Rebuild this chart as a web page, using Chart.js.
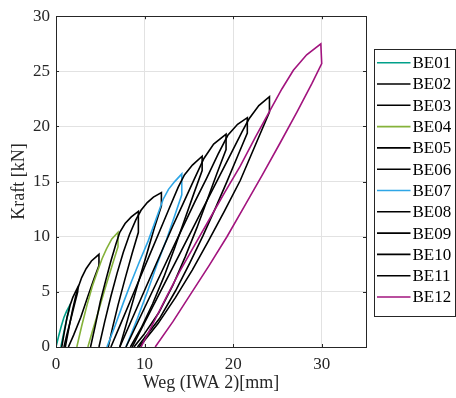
<!DOCTYPE html>
<html><head><meta charset="utf-8">
<script src="https://cdn.jsdelivr.net/npm/chart.js@4/dist/chart.umd.min.js"></script>
<style>html,body{margin:0;padding:0;background:#fff}canvas{display:block}</style>
</head><body>
<canvas id="c" width="456" height="398"></canvas>
<script>
const seriesNames = ['BE01','BE02','BE03','BE04','BE05','BE06','BE07','BE08','BE09','BE10','BE11','BE12'];
const seriesColors = ['#00a08a','#000000','#000000','#85b23a','#000000','#000000','#2ea6e6','#000000','#000000','#000000','#000000','#a2147e'];
const xTicks = [0,10,20,30];
const yTicks = [0,5,10,15,20,25,30];
const xTitle = 'Weg (IWA 2)[mm]';
const yTitle = 'Kraft [kN]';

// [Weg mm, Kraft kN] — loading branch, peak, drop, unloading branch
const BE01 = [[0,0],[0.3,1.0],[0.6,1.9],[0.9,2.7],[1.2,3.25],[1.5,3.7],[1.5,3.45],[1.2,2.5],[0.9,1.4],[0.55,0]];
const BE02 = [[0.65,0],[0.95,1.4],[1.25,2.7],[1.6,3.8],[1.9,4.5],[2.2,5.0],[2.45,5.4],[2.45,5.0],[2.1,3.9],[1.7,2.6],[1.25,1.2],[0.9,0]];
const BE03 = [[1.05,0],[1.45,1.7],[1.85,3.3],[2.25,4.7],[2.55,5.5],[2.9,6.3],[3.4,7.1],[4.0,7.8],[4.85,8.4],[4.85,7.4],[4.3,6.2],[3.6,4.6],[2.8,2.7],[2.0,1.1],[1.4,0]];
const BE04 = [[2.35,0],[2.9,1.9],[3.5,3.8],[4.1,5.5],[4.7,6.9],[5.2,8.0],[5.7,8.9],[6.3,9.8],[7.0,10.4],[7.0,9.1],[6.3,7.3],[5.5,5.2],[4.7,3.0],[4.1,1.4],[3.6,0]];
const BE05 = [[3.9,0],[4.45,2.0],[5.0,4.1],[5.6,6.0],[6.2,7.8],[6.75,9.3],[7.2,10.4],[7.8,11.2],[8.5,11.8],[9.3,12.3],[9.3,10.4],[8.6,8.5],[7.8,6.2],[7.0,3.8],[6.4,1.8],[5.9,0]];
const BE06 = [[4.85,0],[5.5,2.3],[6.2,4.6],[6.9,6.7],[7.6,8.6],[8.3,10.2],[9.0,11.5],[9.6,12.4],[10.3,13.1],[11.0,13.6],[11.9,14.0],[11.9,12.8],[11.1,10.8],[10.2,8.3],[9.2,5.6],[8.2,2.8],[7.2,0]];
const BE07 = [[5.75,0],[6.7,2.0],[7.6,4.0],[8.5,5.9],[9.45,7.8],[10.4,9.6],[11.3,11.6],[12.1,13.4],[12.7,14.3],[13.4,15.0],[14.2,15.7],[14.2,13.8],[13.4,11.9],[12.5,9.8],[11.5,7.7],[10.4,5.2],[9.2,2.6],[7.9,0]];
const BE08 = [[6.2,0],[7.3,2.1],[8.4,4.2],[9.5,6.3],[10.6,8.4],[11.7,10.5],[12.8,12.6],[13.8,14.5],[14.5,15.6],[15.4,16.5],[16.5,17.3],[16.5,16.0],[15.6,14.0],[14.5,11.5],[13.4,9.0],[12.2,6.4],[10.9,3.9],[9.6,1.7],[8.4,0]];
const BE09 = [[7.2,0],[8.4,2.2],[9.6,4.4],[10.8,6.6],[12.0,8.8],[13.2,11.0],[14.4,13.1],[15.6,15.2],[16.7,17.1],[17.8,18.4],[19.2,19.3],[19.2,17.9],[18.2,15.8],[17.1,13.4],[15.9,10.8],[14.6,8.2],[13.2,5.6],[11.6,3.1],[9.9,1.1],[8.8,0]];
const BE10 = [[7.9,0],[9.2,2.2],[10.5,4.4],[11.8,6.6],[13.1,8.8],[14.4,11.0],[15.7,13.2],[17.0,15.3],[18.3,17.5],[19.4,19.2],[20.5,20.2],[21.6,20.8],[21.6,19.4],[20.5,17.3],[19.3,15.0],[18.0,12.6],[16.6,10.1],[15.1,7.6],[13.5,5.1],[11.7,2.6],[9.2,0]];
const BE11 = [[8.6,0],[10.0,2.2],[11.4,4.4],[12.8,6.6],[14.2,8.8],[15.6,11.0],[17.0,13.2],[18.4,15.4],[19.8,17.6],[21.0,19.5],[21.8,20.7],[22.9,21.9],[24.1,22.7],[24.1,21.3],[22.5,18.3],[20.8,15.1],[19.0,12.3],[17.2,9.6],[15.4,7.0],[13.5,4.5],[11.5,2.1],[9.4,0]];
const BE12 = [[9.6,0],[11.0,2.2],[12.5,4.6],[14.0,6.9],[15.7,9.3],[17.4,11.7],[19.1,14.1],[20.8,16.4],[22.5,19.0],[24.2,21.5],[25.5,23.4],[26.8,25.1],[28.3,26.5],[29.9,27.5],[30.0,25.7],[28.9,23.9],[27.2,21.3],[25.3,18.5],[23.3,15.6],[21.3,12.8],[19.3,10.0],[17.3,7.4],[15.2,4.8],[13.2,2.3],[11.2,0]];

const seriesData = [BE01,BE02,BE03,BE04,BE05,BE06,BE07,BE08,BE09,BE10,BE11,BE12];

const FONT = "'Liberation Serif','Times New Roman',serif";
const TXT = '#262626';

const datasets = seriesData.map((d,i)=>({
  label: seriesNames[i],
  data: d.map(p=>({x:p[0], y:p[1]})),
  borderColor: seriesColors[i],
  backgroundColor: seriesColors[i],
  borderWidth: 1.6,
  pointRadius: 0,
  showLine: true,
  tension: 0,
  fill: false,
  order: seriesData.length - i
}));

const framePlugin = {
  id: 'frame',
  afterDatasetsDraw(chart){
    const {ctx, chartArea:a, scales:{x,y}} = chart;
    ctx.save();
    ctx.strokeStyle = TXT;
    ctx.lineWidth = 1;
    ctx.strokeRect(Math.round(a.left)+0.5, Math.round(a.top)+0.5, Math.round(a.right-a.left), Math.round(a.bottom-a.top));
    const tl = 3;
    ctx.beginPath();
    xTicks.forEach(v=>{
      const px = Math.round(x.getPixelForValue(v))+0.5;
      ctx.moveTo(px, a.bottom); ctx.lineTo(px, a.bottom-tl);
      ctx.moveTo(px, a.top); ctx.lineTo(px, a.top+tl);
    });
    yTicks.forEach(v=>{
      const py = Math.round(y.getPixelForValue(v))+0.5;
      ctx.moveTo(a.left, py); ctx.lineTo(a.left+tl, py);
      ctx.moveTo(a.right, py); ctx.lineTo(a.right-tl, py);
    });
    ctx.stroke();
    ctx.restore();
  },
  afterDraw(chart){
    const ctx = chart.ctx;
    const bx = 374.5, by = 49.5, bw = 81, bh = 267;
    ctx.save();
    ctx.fillStyle = '#fff';
    ctx.fillRect(bx, by, bw, bh);
    ctx.strokeStyle = TXT;
    ctx.lineWidth = 1;
    ctx.strokeRect(bx, by, bw, bh);
    ctx.font = '17px ' + FONT;
    ctx.textBaseline = 'middle';
    ctx.textAlign = 'left';
    chart.data.datasets.forEach((ds,i)=>{
      const cy = 62.7 + i*21.3;
      ctx.strokeStyle = ds.borderColor;
      ctx.lineWidth = 1.6;
      ctx.beginPath();
      ctx.moveTo(377, cy); ctx.lineTo(410.5, cy);
      ctx.stroke();
      ctx.fillStyle = '#000';
      ctx.fillText(ds.label, 412.5, cy+1);
    });
    ctx.restore();
  }
};

new Chart(document.getElementById('c'), {
  type: 'scatter',
  data: { datasets },
  options: {
    responsive: false,
    animation: false,
    devicePixelRatio: 1,
    layout: { padding: { top: 12, right: 90, left: 0, bottom: 0 } },
    plugins: { legend: { display: false }, tooltip: { enabled: false } },
    scales: {
      x: {
        type: 'linear', position: 'bottom', min: 0, max: 35,
        afterBuildTicks: s => { s.ticks = xTicks.map(v=>({value:v})); },
        afterFit: s => { s.height = 51; },
        grid: { color: '#e2e2e2', lineWidth: 1, drawTicks: false },
        border: { display: false },
        ticks: { color: TXT, font: { family: FONT, size: 17 }, padding: 7, maxRotation: 0 },
        title: { display: true, text: xTitle, color: TXT, font: { family: FONT, size: 18 }, padding: { top: 0, bottom: 4 } }
      },
      y: {
        type: 'linear', position: 'left', min: 0, max: 30,
        afterBuildTicks: s => { s.ticks = yTicks.map(v=>({value:v})); },
        afterFit: s => { s.width = 56; },
        grid: { color: '#e2e2e2', lineWidth: 1, drawTicks: false },
        border: { display: false },
        ticks: { color: TXT, font: { family: FONT, size: 17 }, padding: 6 },
        title: { display: true, text: yTitle, color: TXT, font: { family: FONT, size: 18 }, padding: { top: 8, bottom: 0 } }
      }
    }
  },
  plugins: [framePlugin]
});
</script>
</body></html>
